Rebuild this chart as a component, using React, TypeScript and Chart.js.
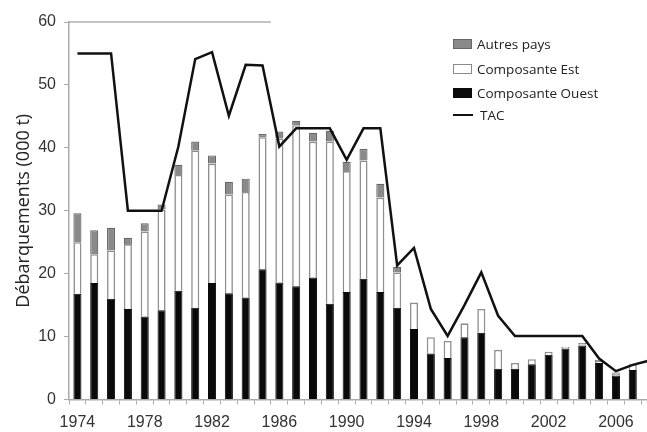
import React, { useEffect, useRef } from 'react';
import Chart from 'chart.js/auto';

const years = [
  '1974', '1975', '1976', '1977', '1978', '1979', '1980', '1981', '1982', '1983',
  '1984', '1985', '1986', '1987', '1988', '1989', '1990', '1991', '1992', '1993',
  '1994', '1995', '1996', '1997', '1998', '1999', '2000', '2001', '2002', '2003',
  '2004', '2005', '2006', '2007', '2008',
];

const composanteOuest = [
  16.8, 18.5, 16.0, 14.4, 13.2, 14.2, 17.3, 14.6, 18.5, 16.9,
  16.2, 20.7, 18.6, 18.0, 19.4, 15.2, 17.1, 19.2, 17.1, 14.6,
  11.2, 7.3, 6.6, 9.9, 10.6, 4.9, 4.9, 5.6, 7.1, 8.1,
  8.6, 5.8, 3.8, 4.7, null,
];

const composanteEst = [
  8.2, 4.6, 7.7, 10.3, 13.5, 16.0, 18.4, 25.0, 19.0, 15.7,
  16.8, 21.0, 22.9, 25.6, 21.6, 25.8, 19.2, 18.8, 15.0, 5.6,
  4.2, 2.6, 2.7, 2.2, 3.8, 3.0, 0.9, 0.8, 0.5, 0.3,
  0.2, 0.3, 0.3, 0.9, null,
];

const autresPays = [
  4.6, 3.8, 3.6, 1.0, 1.3, 0.8, 1.6, 1.4, 1.3, 2.0,
  2.1, 0.5, 1.1, 0.7, 1.4, 1.7, 1.5, 1.8, 2.2, 0.9,
  0, 0, 0, 0, 0, 0, 0, 0, 0, 0,
  0.2, 0.2, 0.2, 0, null,
];

const tac = [
  55, 55, 55, 30, 30, 30, 40.2, 54.1, 55.2, 45.1,
  53.2, 53.1, 40.2, 43.1, 43.1, 43.1, 38.1, 43.1, 43.1, 21.3,
  24.1, 14.4, 10.1, 15.0, 20.2, 13.3, 10.1, 10.1, 10.1, 10.1,
  10.1, 6.5, 4.5, 5.5, 6.2,
];

const yTickMin = 0;
const yTickMax = 60;
const yTickStep = 10;

const legendItems = [
  { label: 'Autres pays', kind: 'box', fill: '#8a8a8a', border: '#666' },
  { label: 'Composante Est', kind: 'box', fill: '#ffffff', border: '#8a8a8a' },
  { label: 'Composante Ouest', kind: 'box', fill: '#0a0a0a', border: '#0a0a0a' },
  { label: 'TAC', kind: 'line', fill: '#111', border: '#111' },
];

const topLinePlugin = {
  id: 'topLine',
  afterDatasetsDraw(chart: any) {
    const { ctx, chartArea, scales } = chart;
    const y = scales.y.getPixelForValue(yTickMax);
    const xEnd = (scales.x.getPixelForValue(11) + scales.x.getPixelForValue(12)) / 2;
    ctx.save();
    ctx.strokeStyle = '#b0b0b0';
    ctx.lineWidth = 1.5;
    ctx.beginPath();
    ctx.moveTo(chartArea.left, y);
    ctx.lineTo(xEnd, y);
    ctx.stroke();
    ctx.restore();
  },
};

export default function App() {
  const canvasRef = useRef<HTMLCanvasElement | null>(null);

  useEffect(() => {
    document.body.style.margin = '0';
    document.body.style.overflow = 'hidden';
    const canvas = canvasRef.current;
    if (!canvas) return;
    const tickFont = { family: '"Liberation Sans", Arial, sans-serif', size: 16 };
    const chart = new Chart(canvas, {
      type: 'bar',
      data: {
        labels: years,
        datasets: [
          {
            type: 'line',
            label: 'TAC',
            data: tac,
            borderColor: '#111',
            borderWidth: 2.5,
            pointRadius: 0,
            tension: 0,
            fill: false,
            stack: 'tac',
          } as any,
          {
            label: 'Composante Ouest',
            data: composanteOuest,
            backgroundColor: '#0a0a0a',
            borderColor: '#0a0a0a',
            borderWidth: 1,
            barPercentage: 0.48,
            categoryPercentage: 1,
            stack: 'bars',
          },
          {
            label: 'Composante Est',
            data: composanteEst,
            backgroundColor: '#ffffff',
            borderColor: '#8f8f8f',
            borderWidth: 1.6,
            barPercentage: 0.48,
            categoryPercentage: 1,
            stack: 'bars',
          },
          {
            label: 'Autres pays',
            data: autresPays,
            backgroundColor: '#8a8a8a',
            borderColor: '#666666',
            borderWidth: 1.2,
            barPercentage: 0.48,
            categoryPercentage: 1,
            stack: 'bars',
          },
        ],
      },
      options: {
        responsive: false,
        animation: false,
        devicePixelRatio: 1,
        layout: { padding: { left: 0, right: 0, top: 22, bottom: 0 } },
        plugins: {
          legend: { display: false },
          tooltip: { enabled: false },
        },
        scales: {
          x: {
            stacked: true,
            offset: true,
            grid: {
              offset: true,
              drawOnChartArea: false,
              drawTicks: true,
              tickLength: 5,
              color: '#aaaaaa',
            },
            border: { display: true, color: '#aaaaaa', width: 1.5 },
            ticks: {
              autoSkip: false,
              maxRotation: 0,
              minRotation: 0,
              padding: 8,
              color: '#333',
              font: tickFont,
              callback: (_v: any, index: number) => (index % 4 === 0 ? years[index] : ''),
            },
            afterFit: (scale: any) => {
              scale.height = 32.5;
            },
          },
          y: {
            stacked: true,
            min: yTickMin,
            max: yTickMax,
            grid: {
              drawOnChartArea: false,
              drawTicks: true,
              tickLength: 5,
              color: '#aaaaaa',
            },
            border: { display: true, color: '#aaaaaa', width: 1.5 },
            ticks: {
              stepSize: yTickStep,
              padding: 8,
              color: '#333',
              font: tickFont,
            },
            title: {
              display: true,
              text: 'Débarquements (000 t)',
              color: '#222',
              font: { family: '"Open Sans", sans-serif', size: 18 },
              padding: { top: 13, bottom: 0 },
            },
            afterFit: (scale: any) => {
              scale.width = 69;
            },
          },
        },
      },
      plugins: [topLinePlugin],
    });
    return () => chart.destroy();
  }, []);

  const rowTops = [44, 69, 93, 115];

  return (
    <div style={{ position: 'relative', width: 647, height: 432, background: '#fff', overflow: 'hidden' }}>
      <canvas ref={canvasRef} width={658} height={432} style={{ display: 'block', width: 658, height: 432 }} />
      {legendItems.map((item, i) => (
        <div
          key={item.label}
          style={{
            position: 'absolute',
            left: 453,
            top: rowTops[i] - 10,
            height: 20,
            display: 'flex',
            alignItems: 'center',
            fontFamily: '"Open Sans", sans-serif',
            fontSize: 13.5,
            color: '#222',
            whiteSpace: 'nowrap',
          }}
        >
          {item.kind === 'box' ? (
            <span
              style={{
                display: 'inline-block',
                width: 17,
                height: 8,
                background: item.fill,
                border: `1.5px solid ${item.border}`,
                marginRight: 5,
              }}
            />
          ) : (
            <span
              style={{
                display: 'inline-block',
                width: 20,
                height: 2.5,
                background: item.fill,
                marginRight: 7,
              }}
            />
          )}
          <span>{item.label}</span>
        </div>
      ))}
    </div>
  );
}
